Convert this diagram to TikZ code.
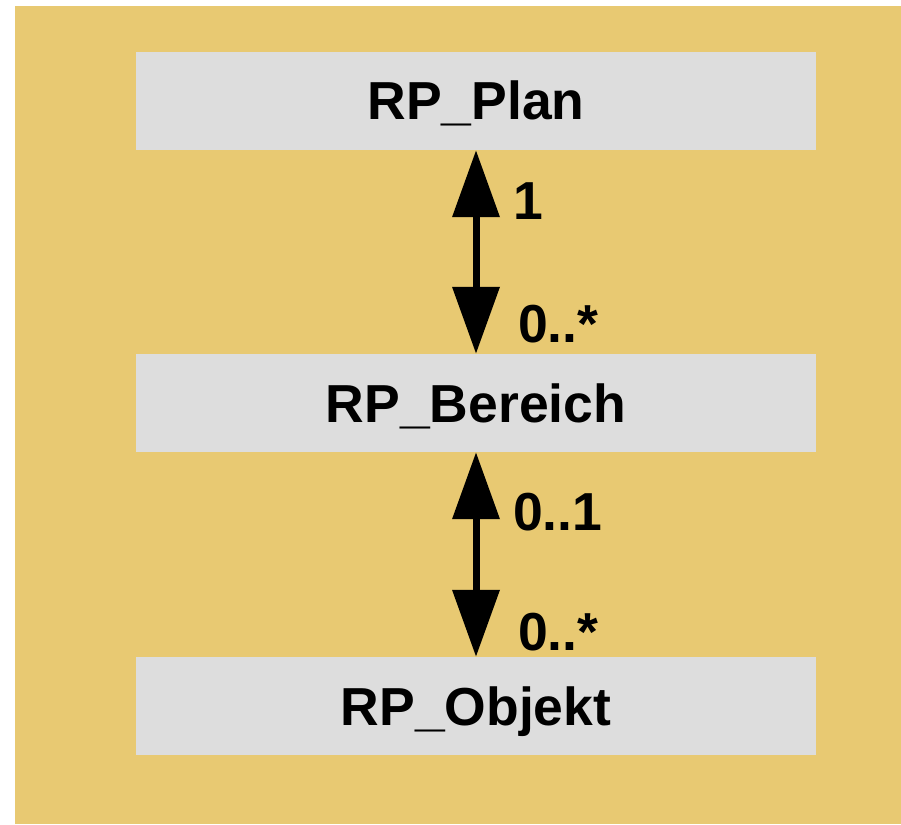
\documentclass[tikz,border=0pt]{standalone}
\usepackage{fontspec}
\setmainfont{Liberation Sans}
\usetikzlibrary{arrows.meta}
\definecolor{panel}{HTML}{E8C972}
\definecolor{boxgray}{HTML}{DDDDDD}
\tikzset{
  classbox/.style={fill=boxgray, draw=none, minimum width=680pt, minimum height=98pt,
    inner sep=0pt, text height=38pt, text depth=0pt,
    font=\fontsize{53.5}{60}\selectfont\bfseries},
  assoc/.style={line width=7pt, {Triangle[length=67pt,width=46pt]}-{Triangle[length=67pt,width=46pt]}},
  mult/.style={anchor=base west, inner sep=0pt, font=\fontsize{53.5}{60}\selectfont\bfseries}
}
\begin{document}
\begin{tikzpicture}[x=1pt, y=-1pt]
  \useasboundingbox (0,0) rectangle (901,824);
  % background panel
  \fill[panel] (15,6.5) rectangle (901,824);
  % classes
  \node[classbox] (plan) at (476,101) {RP\_Plan};
  \node[classbox] (bereich) at (476,403) {RP\_Bereich};
  \node[classbox] (objekt) at (476,706) {RP\_Objekt};
  % associations
  \draw[assoc] (plan.south) -- (bereich.north);
  \draw[assoc] (bereich.south) -- (objekt.north);
  % multiplicities
  \node[mult] (m1) at (513,219) {1};
  \node[mult] (m2) at (518,342) {0..*};
  \node[mult] (m3) at (513,530) {0..1};
  \node[mult] (m4) at (518,650) {0..*};
\end{tikzpicture}
\end{document}
